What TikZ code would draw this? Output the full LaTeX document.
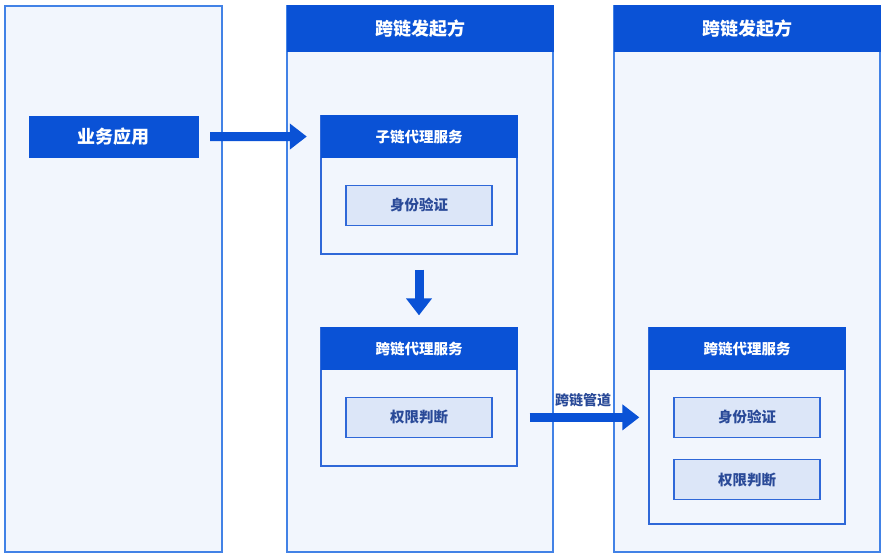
\documentclass[tikz,border=0pt]{standalone}
\usepackage{fontspec}
\setmainfont{Noto Sans CJK SC}
\usetikzlibrary{arrows.meta,positioning}

\definecolor{hdblue}{HTML}{0A52D6}
\definecolor{panelfill}{HTML}{F2F6FD}
\definecolor{panelline}{HTML}{4282E6}
\definecolor{itemfill}{HTML}{DCE6F8}
\definecolor{itemline}{HTML}{2F68D8}
\definecolor{itemtext}{HTML}{2A4A98}

\begin{document}
\begin{tikzpicture}[x=1pt,y=-1pt,>={Triangle[width=25pt,length=17pt]},
    panel/.style={draw=panelline,fill=panelfill,line width=1.5pt,inner sep=0pt,minimum height=546pt,minimum width=#1},
    head/.style={draw=hdblue,fill=hdblue,text=white,inner sep=0pt,minimum width=#1,font=\fontsize{18}{21}\selectfont\bfseries},
    proxy/.style={draw=itemline,fill=panelfill,line width=1.3pt,inner sep=0pt,minimum width=196pt,minimum height=#1},
    proxyhead/.style={head=196pt,minimum height=42pt,font=\fontsize{14.5}{17}\selectfont\bfseries},
    item/.style={draw=itemline,fill=itemfill,line width=1.2pt,text=itemtext,minimum width=146pt,minimum height=40pt,font=\fontsize{14.5}{17}\selectfont\bfseries},
    flow/.style={->,draw=hdblue,line width=9pt}]
    \useasboundingbox (0,0) rectangle (885,558);

    % three columns
    \node[panel=217pt] (colL) at (113.5,279) {};
    \node[panel=266pt] (colM) at (420,279) {};
    \node[panel=266pt] (colR) at (747,279) {};
    \node[head=266pt,minimum height=46pt,anchor=north] (hdM) at (colM.north) {跨链发起方};
    \node[head=266pt,minimum height=46pt,anchor=north] (hdR) at (colR.north) {跨链发起方};

    \node[head=169pt,minimum height=41pt] (app) at (113.5,136.5) {业务应用};

    % middle column
    \node[proxy=138pt] (proxyA) at (419,185) {};
    \node[proxyhead,anchor=north] (hdA) at (proxyA.north) {子链代理服务};
    \node[item] (idA) [below=27pt of hdA] {身份验证};

    \node[proxy=138pt] (proxyB) at (419,397) {};
    \node[proxyhead,anchor=north] (hdB) at (proxyB.north) {跨链代理服务};
    \node[item] (permB) [below=27pt of hdB] {权限判断};

    % right column
    \node[proxy=196pt] (proxyC) at (747,426) {};
    \node[proxyhead,anchor=north] (hdC) at (proxyC.north) {跨链代理服务};
    \node[item] (idC) [below=27pt of hdC] {身份验证};
    \node[item] (permC) [below=21pt of idC] {权限判断};

    \draw[flow,shorten <=12pt,shorten >=14pt] (app) -- (hdA);
    \draw[flow,shorten <=15pt,shorten >=12pt] (proxyA) -- (hdB);
    \draw[flow,shorten <=12pt,shorten >=9pt] (proxyB.east |- permB) -- node[above=3pt,text=itemtext,font=\fontsize{14}{17}\selectfont\bfseries] (pipe) {跨链管道} (proxyC.west |- permB);
\end{tikzpicture}
\end{document}
